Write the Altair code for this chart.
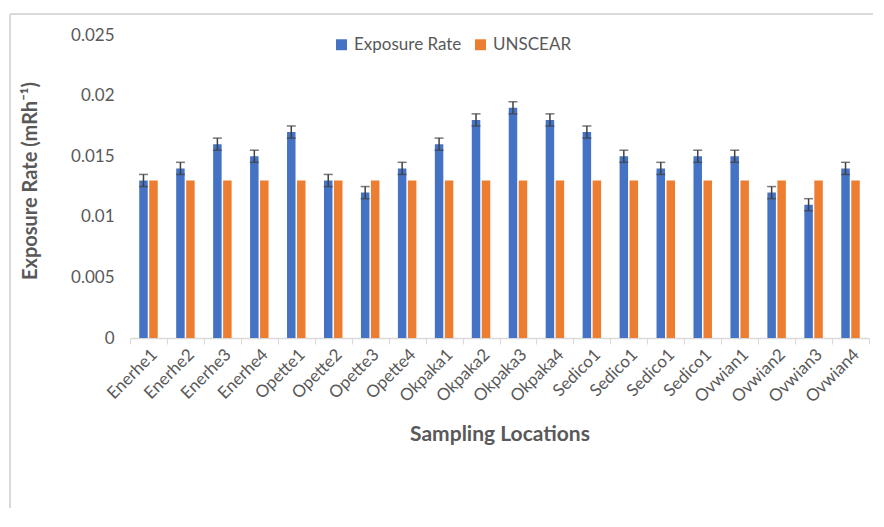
import altair as alt
import pandas as pd

locations = ["Enerhe1", "Enerhe2", "Enerhe3", "Enerhe4",
             "Opette1", "Opette2", "Opette3", "Opette4",
             "Okpaka1", "Okpaka2", "Okpaka3", "Okpaka4",
             "Sedico1", "Sedico1", "Sedico1", "Sedico1",
             "Ovwian1", "Ovwian2", "Ovwian3", "Ovwian4"]
exposure = [0.013, 0.014, 0.016, 0.015,
            0.017, 0.013, 0.012, 0.014,
            0.016, 0.018, 0.019, 0.018,
            0.017, 0.015, 0.014, 0.015,
            0.015, 0.012, 0.011, 0.014]
unscear = [0.013] * 20
error = [0.0005] * 20

series = ["Exposure Rate", "UNSCEAR"]
colors = ["#4472C4", "#ED7D31"]

rows = []
for i, loc in enumerate(locations):
    rows.append({"idx": i, "loc": loc, "series": series[0], "value": exposure[i],
                 "lo": exposure[i] - error[i], "hi": exposure[i] + error[i]})
    rows.append({"idx": i, "loc": loc, "series": series[1], "value": unscear[i],
                 "lo": unscear[i], "hi": unscear[i]})
df = pd.DataFrame(rows)

label_array = "[" + ",".join("'%s'" % l for l in locations) + "]"

FONT = "Lato"
GRAY = "#595959"

x_enc = alt.X("idx:O",
              scale=alt.Scale(paddingInner=0, paddingOuter=0),
              axis=alt.Axis(title="Sampling Locations", labelExpr=label_array + "[datum.value]",
                            labelAngle=-45, labelAlign="right", labelBaseline="top",
                            labelFontSize=17, labelColor=GRAY, labelFont=FONT,
                            domainColor="#d9d9d9", domainWidth=1.5,
                            tickColor="#d9d9d9", tickSize=6, tickBand="extent",
                            labelPadding=2,
                            titleFontSize=21, titleFontWeight="bold", titleColor=GRAY,
                            titleFont=FONT, titlePadding=18))
xoff = alt.XOffset("series:N", scale=alt.Scale(domain=series, paddingInner=0.15, paddingOuter=0.925))
y_enc = alt.Y("value:Q",
              scale=alt.Scale(domain=[0, 0.025]),
              axis=alt.Axis(title="Exposure Rate (mRh⁻¹)", values=[0, 0.005, 0.01, 0.015, 0.02, 0.025],
                            format="~g", grid=False, domain=False, ticks=False,
                            labelFontSize=17, labelColor=GRAY, labelFont=FONT, labelPadding=16,
                            titleFontSize=20, titleFontWeight="bold", titleColor=GRAY,
                            titleFont=FONT, titlePadding=30))

bars = alt.Chart(df).mark_bar().encode(
    x=x_enc,
    xOffset=xoff,
    y=y_enc,
    color=alt.Color("series:N", scale=alt.Scale(domain=series, range=colors),
                    legend=alt.Legend(title=None, orient="none", direction="horizontal",
                                      legendX=203, legendY=13, symbolType="square",
                                      symbolSize=120, labelFontSize=17, labelColor=GRAY,
                                      labelFont=FONT, columnPadding=10, symbolStrokeWidth=0)),
)

err_df = df[df["series"] == series[0]]
err_rule = alt.Chart(err_df).mark_rule(color="#404040", strokeWidth=1.5).encode(
    x="idx:O", xOffset=alt.XOffset("series:N"), y="lo:Q", y2="hi:Q")
cap_lo = alt.Chart(err_df).mark_tick(color="#404040", thickness=1.5, size=9).encode(
    x="idx:O", xOffset=alt.XOffset("series:N"), y="lo:Q")
cap_hi = alt.Chart(err_df).mark_tick(color="#404040", thickness=1.5, size=9).encode(
    x="idx:O", xOffset=alt.XOffset("series:N"), y="hi:Q")

frame_top = alt.Chart(df).mark_rule(color="#d9d9d9", strokeWidth=2).encode(
    x=alt.value(-120), x2=alt.value(760), y=alt.value(-9))
frame_left = alt.Chart(df).mark_rule(color="#d9d9d9", strokeWidth=2).encode(
    x=alt.value(-120), y=alt.value(-9), y2=alt.value(600))

chart = alt.layer(frame_top, frame_left, bars, err_rule, cap_lo, cap_hi).properties(
    width=739, height=315,
    autosize=alt.AutoSizeParams(type="none"),
    padding={"left": 122, "top": 15, "right": 4, "bottom": 170},
).configure_view(stroke=None)

chart.save("out.html", embed_options={"renderer": "svg", "actions": False})
